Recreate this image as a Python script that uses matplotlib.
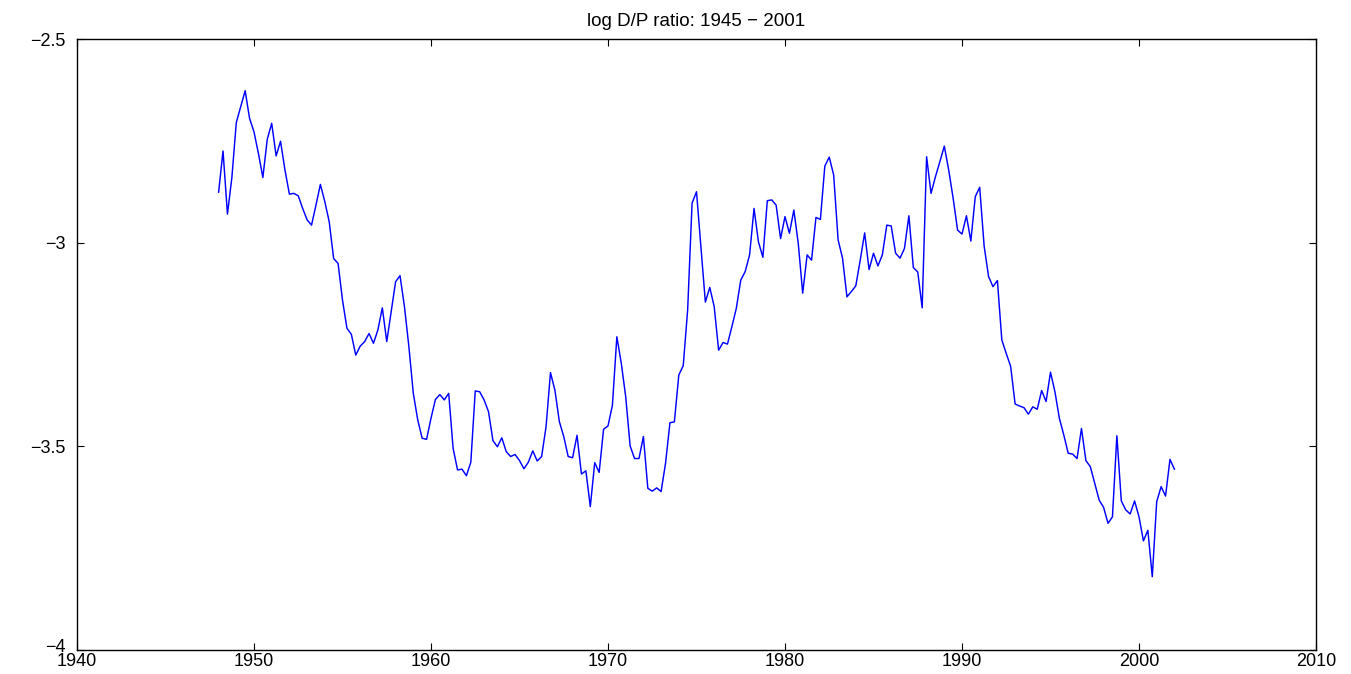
import numpy as np
import matplotlib
matplotlib.use("Agg")
import matplotlib.pyplot as plt
from matplotlib.transforms import ScaledTranslation

# Quarterly log dividend/price ratio, first observation 1948 Q1
start_year = 1948.0
quarter = 0.25

dp_1948_1958 = [
    -2.876, -2.775, -2.930, -2.840, -2.705, -2.666, -2.627, -2.695, -2.728, -2.781,
    -2.840, -2.746, -2.707, -2.787, -2.751, -2.822, -2.881, -2.879, -2.885, -2.916,
    -2.944, -2.957, -2.908, -2.857, -2.899, -2.949, -3.039, -3.051, -3.141, -3.210,
    -3.225, -3.276, -3.254, -3.243, -3.223, -3.247, -3.214, -3.160, -3.243, -3.170,
    -3.096, -3.081,
]
dp_1958_1969 = [
    -3.157, -3.255, -3.370, -3.435, -3.480, -3.483, -3.431, -3.385, -3.373, -3.386,
    -3.370, -3.505, -3.558, -3.556, -3.572, -3.539, -3.364, -3.366, -3.386, -3.415,
    -3.486, -3.501, -3.479, -3.513, -3.525, -3.520, -3.535, -3.555, -3.539, -3.511,
    -3.536, -3.525, -3.452, -3.319, -3.362, -3.439, -3.476, -3.525, -3.528, -3.473,
    -3.568, -3.560, -3.648,
]
dp_1969_1979 = [
    -3.540, -3.564, -3.458, -3.450, -3.399, -3.231, -3.296, -3.378, -3.499, -3.530,
    -3.530, -3.476, -3.603, -3.610, -3.602, -3.611, -3.542, -3.442, -3.440, -3.325,
    -3.302, -3.165, -2.903, -2.875, -3.010, -3.146, -3.110, -3.157, -3.264, -3.245,
    -3.249, -3.206, -3.161, -3.092, -3.071, -3.030, -2.916, -2.998, -3.036, -2.897,
    -2.895, -2.908, -2.990,
]
dp_1980_1990 = [
    -2.936, -2.977, -2.920, -3.002, -3.124, -3.030, -3.043, -2.938, -2.943, -2.812,
    -2.790, -2.834, -2.993, -3.038, -3.133, -3.120, -3.106, -3.043, -2.976, -3.066,
    -3.026, -3.057, -3.030, -2.957, -2.959, -3.026, -3.038, -3.014, -2.934, -3.061,
    -3.072, -3.160, -2.789, -2.879, -2.838, -2.801, -2.763, -2.822, -2.891, -2.969,
    -2.979, -2.934,
]
dp_1990_1993 = [
    -2.996, -2.887, -2.864, -3.008, -3.083, -3.108, -3.093, -3.239, -3.272, -3.304,
    -3.396, -3.401, -3.405, -3.421,
]
dp_1994_2002 = [
    -3.403, -3.409, -3.363, -3.390, -3.318, -3.366, -3.431, -3.472, -3.517, -3.519,
    -3.530, -3.456, -3.535, -3.550, -3.591, -3.632, -3.650, -3.689, -3.673, -3.474,
    -3.634, -3.656, -3.666, -3.634, -3.673, -3.732, -3.706, -3.820, -3.636, -3.599,
    -3.622, -3.532, -3.556,
]

x_ticks = [1940, 1950, 1960, 1970, 1980, 1990, 2000, 2010]
x_tick_labels = ["1940", "1950", "1960", "1970", "1980", "1990", "2000", "2010"]
y_ticks = [-4.0, -3.5, -3.0, -2.5]
y_tick_labels = ["\u22124", "\u22123.5", "\u22123", "\u22122.5"]
title_text = "log D/P ratio: 1945 \u2212 2001"

log_dp = np.concatenate([dp_1948_1958, dp_1958_1969, dp_1969_1979,
                         dp_1980_1990, dp_1990_1993, dp_1994_2002])
dates = start_year + quarter * np.arange(len(log_dp))

plt.rcParams["font.family"] = ["Liberation Sans", "DejaVu Sans"]

fig = plt.figure(figsize=(13.51, 6.74), dpi=100)
ax = fig.add_axes([77 / 1351, 24 / 674, (1316 - 77) / 1351, (650 - 39) / 674])

ax.plot(dates, log_dp, color=(0, 0, 1), linewidth=1.05)

ax.set_xlim(1940, 2010)
ax.set_ylim(-4, -2.5)
ax.set_xticks(x_ticks)
ax.set_xticklabels(x_tick_labels)
ax.set_yticks(y_ticks)
ax.set_yticklabels(y_tick_labels)

ax.tick_params(direction="in", length=5, width=0.8, top=True, right=True,
               labelsize=13, colors="black")
ax.tick_params(axis="x", pad=2.5)
ax.tick_params(axis="y", pad=8)
for spine in ax.spines.values():
    spine.set_linewidth(1.0)
    spine.set_color("black")

# lift the bottom y label a little so it clears the first year label
bottom_label = ax.get_yticklabels()[0]
bottom_label.set_transform(bottom_label.get_transform()
                           + ScaledTranslation(0, 5 / 100, fig.dpi_scale_trans))

ax.set_title(title_text, fontsize=13.5, pad=9)

fig.savefig("out.png", dpi=100, facecolor="white")
